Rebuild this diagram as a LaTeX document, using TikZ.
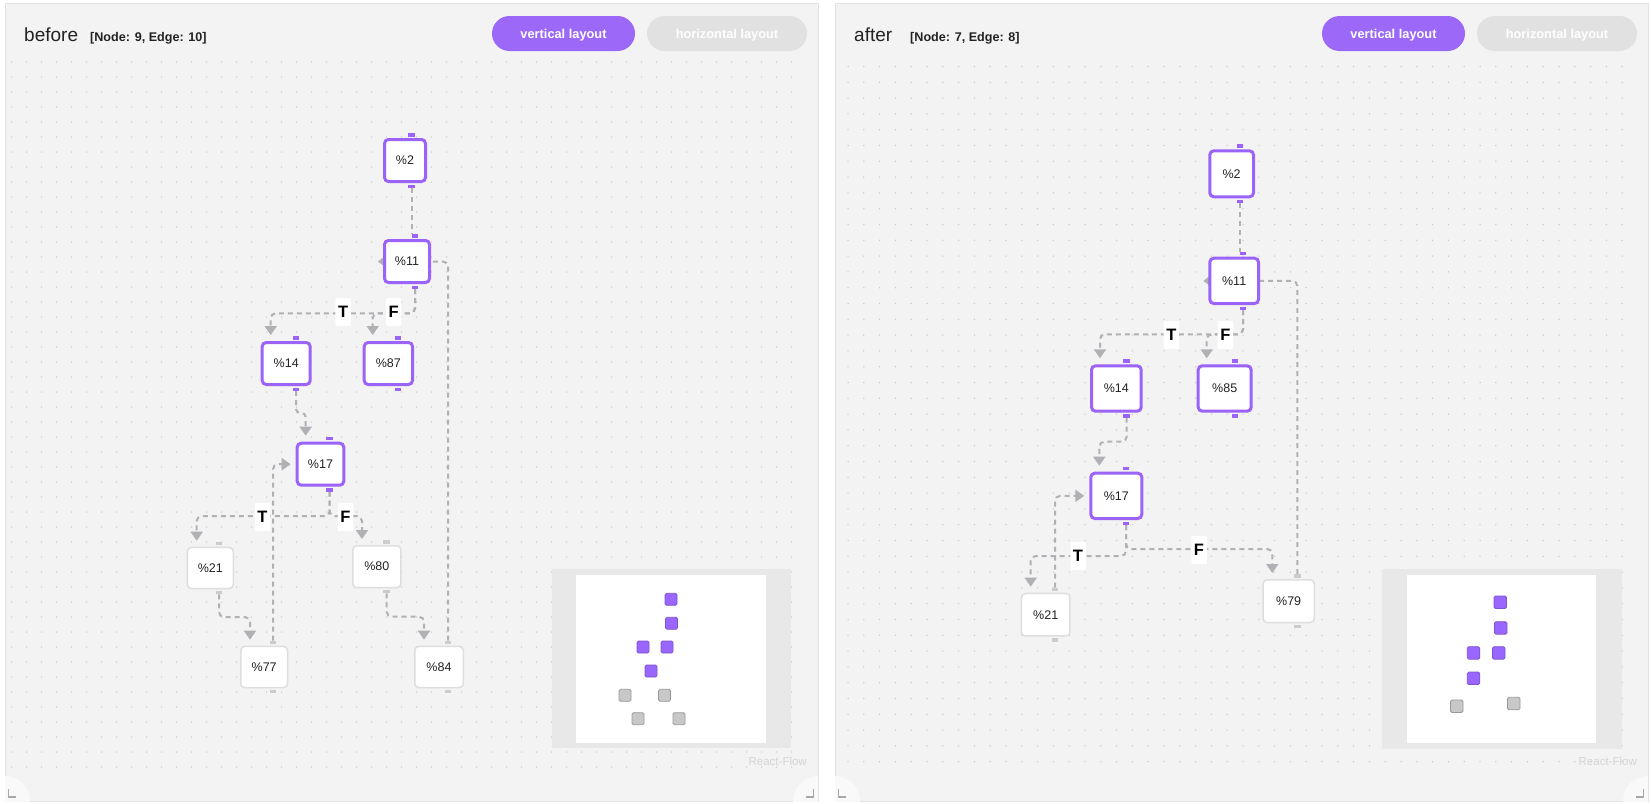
\documentclass[tikz,border=0pt]{standalone}
\usepackage{fontspec}
\setmainfont{Liberation Sans}
\usetikzlibrary{arrows.meta}
\pgfdeclarelayer{bg}
\pgfdeclarelayer{edgelayer}
\pgfsetlayers{bg,edgelayer,main}

\definecolor{panelbg}{HTML}{F3F3F3}
\definecolor{panelline}{HTML}{E2E2E2}
\definecolor{dotcol}{HTML}{C9C9C9}
\definecolor{btnpurple}{HTML}{9C68F8}
\definecolor{btngray}{HTML}{E1E1E1}
\definecolor{nodepurple}{HTML}{9B63F7}
\definecolor{nodegray}{HTML}{DEDEDE}
\definecolor{handlegray}{HTML}{CCCCCC}
\definecolor{edgecol}{HTML}{B1B1B5}
\definecolor{textdark}{HTML}{222222}
\definecolor{mmframe}{HTML}{E8E8E8}
\definecolor{mmpurple}{HTML}{9966FF}
\definecolor{mmpurpleline}{HTML}{7E55CC}
\definecolor{mmgray}{HTML}{C8C8C8}
\definecolor{mmgrayline}{HTML}{999999}
\definecolor{rfgray}{HTML}{D4D4D4}
\definecolor{cornerfill}{HTML}{F9F9F9}
\definecolor{glyphgray}{HTML}{A8A8A8}

% flow node: name, x1, y1, x2, y2, handle x, text, kind (p/g), border width
\newcommand\flownode[9]{%
  \pgfmathsetmacro\fnCX{(#2+#4)/2}%
  \pgfmathsetmacro\fnCY{(#3+#5)/2}%
  \pgfmathsetmacro\fnW{#4-#2-#9}%
  \pgfmathsetmacro\fnH{#5-#3-#9}%
  \node[#8node, line width=#9pt, minimum width=\fnW pt, minimum height=\fnH pt] (#1) at (\fnCX,\fnCY) {#7};
  \fill[#8handle] ({#6-3.25},{#3-5}) rectangle ({#6+3.25},{#3-1.5});
  \fill[#8handle] ({#6-3.25},{#5+1.5}) rectangle ({#6+3.25},{#5+5});
  \coordinate (#1-t) at (#6,{#3-5});
  \coordinate (#1-b) at (#6,{#5+5});
  \coordinate (#1-in) at ({#2+10},{#3-6});
  \coordinate (#1-l) at ({#2-5},\fnCY);
  \coordinate (#1-r) at (#4,\fnCY);
}
% minimap square: x, y, style, size
\newcommand\mmsq[4]{\filldraw[#3] (#1,#2) rectangle ++(#4,#4);}

\begin{document}
\begin{tikzpicture}[x=1pt,y=-1pt,
  fnode/.style={draw, rounded corners=4pt, fill=white, inner sep=0pt, outer sep=0pt,
    text=textdark, font=\fontsize{12.5}{14}\selectfont},
  pnode/.style={fnode, draw=nodepurple},
  gnode/.style={fnode, draw=nodegray},
  phandle/.style={fill=nodepurple},
  ghandle/.style={fill=handlegray},
  flowedge/.style={draw=edgecol, line width=2pt, dash pattern=on 5pt off 4pt, rounded corners=5pt},
  flowarrow/.style={flowedge, -{Triangle[length=9pt,width=12pt]}},
  lbl/.style={fill=white, inner sep=0pt, minimum width=15.5pt, minimum height=28pt,
    rounded corners=1pt, text=black, font=\bfseries\fontsize{16.5}{18}\selectfont},
  btn/.style={rounded corners=17.5pt, minimum width=143pt, minimum height=35pt, inner sep=0pt,
    text height=10pt, text depth=0pt,
    text=white, font=\bfseries\fontsize{12.8}{14}\selectfont},
  btnwide/.style={btn, minimum width=160pt},
  title/.style={anchor=base west, inner sep=0pt, text=textdark, font=\fontsize{19}{22}\selectfont},
  subtitle/.style={anchor=base west, inner sep=0pt, text=textdark, font=\bfseries\fontsize{12.6}{14}\selectfont},
  rf/.style={anchor=base east, inner sep=0pt, text=rfgray, font=\fontsize{11.5}{13}\selectfont},
  mmp/.style={fill=mmpurple, draw=mmpurpleline, line width=0.8pt, rounded corners=1.5pt},
  mmg/.style={fill=mmgray, draw=mmgrayline, line width=0.8pt, rounded corners=1.5pt},
  glyph/.style={draw=glyphgray, line width=1.4pt},
  dotrowL/.style={draw=dotcol, line width=1.5pt, line cap=round, dash pattern=on 0pt off 15pt},
  dotrowR/.style={draw=dotcol, line width=1.5pt, line cap=round, dash pattern=on 0pt off 15.8pt}
]
\useasboundingbox (0,0) rectangle (1651,803);

% ---------- page, panels, dot grid, minimaps ----------
\begin{pgfonlayer}{bg}
  \fill[white] (0,0) rectangle (1651,803);
  \filldraw[fill=panelbg, draw=panelline, line width=1pt] (5,3) rectangle (818,801);
  \filldraw[fill=panelbg, draw=panelline, line width=1pt] (835,3) rectangle (1648,801);
  \begin{scope}
    \clip (5,3) rectangle (818,801);
    \fill[cornerfill] (5,801) circle (25);
    \fill[cornerfill] (818,801) circle (25);
  \end{scope}
  \begin{scope}
    \clip (835,3) rectangle (1648,801);
    \fill[cornerfill] (835,801) circle (25);
    \fill[cornerfill] (1648,801) circle (25);
  \end{scope}
  % dot grid as rows of zero-length round dashes
  \foreach \j in {0,...,47}{\draw[dotrowL] (11.7,{62+15*\j}) -- (800,{62+15*\j});}
  \foreach \j in {0,...,44}{\draw[dotrowR] (848,{66.5+15.8*\j}) -- (1630,{66.5+15.8*\j});}

  % minimap, left
  \fill[mmframe] (551.7,569.3) rectangle (790.7,748.3);
  \fill[white] (576,575) rectangle (766,743.3);
  \mmsq{665}{593.3}{mmp}{12}
  \mmsq{665.5}{617.3}{mmp}{12}
  \mmsq{637}{641}{mmp}{12}
  \mmsq{661}{641}{mmp}{12}
  \mmsq{645}{665}{mmp}{12}
  \mmsq{619}{689.3}{mmg}{12}
  \mmsq{658.5}{689.3}{mmg}{12}
  \mmsq{632}{712.7}{mmg}{12}
  \mmsq{673}{712.7}{mmg}{12}
  % minimap, right
  \fill[mmframe] (1381.7,569.3) rectangle (1621.7,749.3);
  \fill[white] (1406.7,575) rectangle (1596,743.3);
  \mmsq{1494}{596}{mmp}{12.5}
  \mmsq{1494.5}{621.7}{mmp}{12.5}
  \mmsq{1467.3}{646.7}{mmp}{12.5}
  \mmsq{1492.5}{646.7}{mmp}{12.5}
  \mmsq{1467.3}{672}{mmp}{12.5}
  \mmsq{1450.5}{700}{mmg}{12.5}
  \mmsq{1507.5}{697.3}{mmg}{12.5}

  % corner glyphs
  \draw[glyph] (8.3,789) -- (8.3,797) -- (15.5,797);
  \draw[glyph] (806,797) -- (813.5,797) -- (813.5,789);
  \draw[glyph] (838.3,789) -- (838.3,797) -- (845.5,797);
  \draw[glyph] (1636,797) -- (1643.3,797) -- (1643.3,789);
\end{pgfonlayer}

% ---------- headers ----------
\node[title] (titleL) at (24,41.7) {before};
\node[subtitle] (infoL) at (90,41.7) {[Node: 9, Edge: 10]};
\node[btn, fill=btnpurple] (vbtnL) at (563.5,33.5) {vertical layout};
\node[btnwide, fill=btngray] (hbtnL) at (727,33.5) {horizontal layout};

\node[title] (titleR) at (854,41.7) {after};
\node[subtitle] (infoR) at (910,41.7) {[Node: 7, Edge: 8]};
\node[btn, fill=btnpurple] (vbtnR) at (1393.5,33.5) {vertical layout};
\node[btnwide, fill=btngray] (hbtnR) at (1557,33.5) {horizontal layout};

\node[rf] (rfL) at (807,765.5) {React-Flow};
\node[rf] (rfR) at (1637,765.5) {React-Flow};

% ---------- nodes, left graph ----------
\flownode{n2L}{383}{138}{427}{183}{411.5}{\%2}{p}{3}
\flownode{n11L}{383}{239}{431}{284}{415}{\%11}{p}{3}
\flownode{n14L}{260.7}{341}{311.7}{386}{296}{\%14}{p}{3}
\flownode{n87L}{362.7}{341}{414}{386}{398}{\%87}{p}{3}
\flownode{n17L}{295.7}{441.7}{345.3}{486.7}{329.7}{\%17}{p}{3}
\flownode{n21L}{186.7}{546.7}{234}{589.3}{219}{\%21}{g}{1.5}
\flownode{n77L}{240}{645.7}{288.3}{688.3}{273}{\%77}{g}{1.5}
\flownode{n80L}{352}{545}{401.7}{588.3}{386.7}{\%80}{g}{1.5}
\flownode{n84L}{414}{645.7}{464}{688.3}{448}{\%84}{g}{1.5}

% ---------- nodes, right graph ----------
\flownode{n2R}{1208.3}{149.3}{1255}{198.3}{1240}{\%2}{p}{3}
\flownode{n11R}{1208.3}{256.7}{1260}{305}{1243}{\%11}{p}{3}
\flownode{n14R}{1090}{364.3}{1142.7}{412.7}{1126.7}{\%14}{p}{3}
\flownode{n85R}{1196.7}{364.3}{1252.7}{412.7}{1235}{\%85}{p}{3}
\flownode{n17R}{1089.3}{471.7}{1143.3}{520}{1126}{\%17}{p}{3}
\flownode{n21R}{1020.7}{592.7}{1070.7}{636.7}{1055}{\%21}{g}{1.5}
\flownode{n79R}{1262.3}{579}{1315}{623.3}{1297.3}{\%79}{g}{1.5}

% ---------- connectors ----------
\begin{pgfonlayer}{edgelayer}
  % left graph
  \draw[flowedge] (n2L-b) -- (n2L-b |- n11L-t);
  \draw[flowarrow] (n11L-b) -- ++(0,24.3) -| (n14L-in);
  \draw[flowarrow] (n11L-b) -- ++(0,24.3) -| (n87L-in);
  \draw[flowarrow, rounded corners=4pt] (n14L-b) -- ++(0,22) -| (n17L-in);
  \draw[flowarrow] (n17L-b) -- ++(0,24.5) -| (n21L-in);
  \draw[flowarrow] (n17L-b) -- ++(0,24.5) -| (n80L-in);
  \draw[flowarrow] (n21L-b) -- ++(0,22.7) -| (n77L-in);
  \draw[flowarrow] (n80L-b) -- ++(0,23.4) -| (n84L-in);
  \draw[flowarrow] (n77L-t) |- (n17L-l);
  \draw[flowedge] (n84L-t) |- (n11L-r);
  \fill[edgecol] ([xshift=-6.5pt]n11L.west) -- ++(6.5,-5) -- ++(0,10) -- cycle;
  % right graph
  \draw[flowedge] (n2R-b) -- (n2R-b |- n11R-t);
  \draw[flowarrow] (n11R-b) -- ++(0,24.3) -| (n14R-in);
  \draw[flowarrow] (n11R-b) -- ++(0,24.3) -| (n85R-in);
  \draw[flowarrow] (n14R-b) -- ++(0,24) -| (n17R-in);
  \draw[flowarrow] (n17R-b) -- ++(0,31) -| (n21R-in);
  \draw[flowarrow] (n17R-b) -- ++(0,24) -| (n79R-in);
  \draw[flowarrow] (n21R-t) |- (n17R-l);
  \draw[flowedge] (n79R-t) |- (n11R-r);
  \fill[edgecol] ([xshift=-6.5pt]n11R.west) -- ++(6.5,-5) -- ++(0,10) -- cycle;
\end{pgfonlayer}

% ---------- branch labels ----------
\node[lbl] (tA) at (343.2,312) {T};
\node[lbl] (fA) at (393.7,312) {F};
\node[lbl] (tB) at (262.5,517) {T};
\node[lbl] (fB) at (345.5,517) {F};
\node[lbl] (tC) at (1171.3,335) {T};
\node[lbl] (fC) at (1225.3,335) {F};
\node[lbl] (tD) at (1078,556) {T};
\node[lbl] (fD) at (1199,550) {F};
\end{tikzpicture}
\end{document}
